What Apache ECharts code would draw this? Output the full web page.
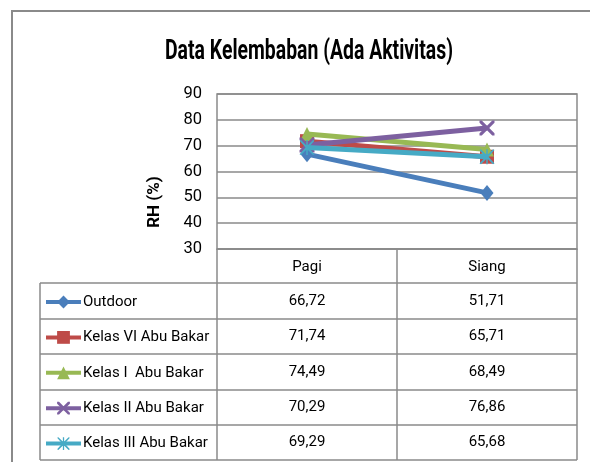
<!DOCTYPE html>
<html><head><meta charset="utf-8">
<script src="https://cdn.jsdelivr.net/npm/echarts@6/dist/echarts.min.js"></script>
<style>html,body{margin:0;padding:0;background:#fff}#c{width:590px;height:462px}</style>
</head><body><div id="c"></div>
<script>
var categories = ['Pagi', 'Siang'];
var seriesNames = ['Outdoor', 'Kelas VI Abu Bakar', 'Kelas I  Abu Bakar', 'Kelas II Abu Bakar', 'Kelas III Abu Bakar'];
var outdoor = [66.72, 51.71];
var kelasVI = [71.74, 65.71];
var kelasI = [74.49, 68.49];
var kelasII = [70.29, 76.86];
var kelasIII = [69.29, 65.68];
var yTicks = [30, 40, 50, 60, 70, 80, 90];
var titleText = 'Data Kelembaban (Ada Aktivitas)';
var yName = 'RH (%)';

var values = [outdoor, kelasVI, kelasI, kelasII, kelasIII];
var colors = ['#4A7EBB', '#BE4B48', '#98B954', '#7D60A0', '#46AAC5'];
var FONT = 'Roboto';
var xPath = 'path://M0,0L3,0L10,7L17,0L20,0L20,3L13,10L20,17L20,20L17,20L10,13L3,20L0,20L0,17L7,10L0,3Z';
var starPath = 'path://M0,1L2,0L10,8L18,0L20,1L12,10L20,19L18,20L10,12L2,20L0,19L8,10Z M9,0L11,0L11,20L9,20Z';
var symbols = ['diamond', 'rect', 'triangle', xPath, starPath];
var symSizes = [[13, 16], 14, 14, 15, 15];

var L = 217, R = 577, TOP = 94, AXB = 249;
var rowTops = [283, 319, 354, 390, 425, 460];
var colX = [307, 487];

// condensed title: fit the measured width of the reference
var cv = document.createElement('canvas').getContext('2d');
cv.font = 'bold 27px ' + FONT;
var titleScale = 288 / cv.measureText(titleText).width;

var chart = echarts.init(document.getElementById('c'));

var graphics = [];
graphics.push({type: 'rect', shape: {x: 12, y: 11, width: 700, height: 600}, style: {fill: 'none', stroke: '#8a8a8a', lineWidth: 2}, silent: true});
rowTops.forEach(function (y) {
  graphics.push({type: 'line', shape: {x1: 40, y1: y, x2: R, y2: y}, style: {stroke: '#8a8a8a', lineWidth: 1.5}});
});
graphics.push({type: 'line', shape: {x1: 40, y1: 283, x2: 40, y2: 460}, style: {stroke: '#8a8a8a', lineWidth: 1.5}});
values.forEach(function (vals, i) {
  var cy = (rowTops[i] + rowTops[i + 1]) / 2;
  vals.forEach(function (v, j) {
    graphics.push({type: 'text', x: colX[j], y: cy, style: {text: v.toFixed(2).replace('.', ','), font: '15px ' + FONT, fill: '#000', align: 'center', verticalAlign: 'middle'}});
  });
});
graphics.push({type: 'text', x: 155, y: 202, rotation: Math.PI / 2, style: {text: yName, font: 'bold 17px ' + FONT, fill: '#000', align: 'center', verticalAlign: 'middle'}});
graphics.push({type: 'text', x: 165, y: 52, scaleX: titleScale, style: {text: titleText, font: 'bold 27px ' + FONT, fill: '#000', align: 'left', verticalAlign: 'middle'}});

chart.setOption({
  animation: false,
  grid: {left: L, right: 590 - R, top: TOP, bottom: 462 - AXB, show: true, borderColor: '#8a8a8a', borderWidth: 1.5},
  legend: {orient: 'vertical', left: 44, top: 292, padding: 0, height: 170, itemWidth: 35, itemHeight: 16, itemGap: 15.4,
    lineStyle: {width: 4},
    textStyle: {fontFamily: FONT, fontSize: 15, color: '#000', lineHeight: 20, padding: [0, 0, 0, -3]}, data: seriesNames},
  xAxis: {type: 'category', data: categories, boundaryGap: true,
    axisLine: {lineStyle: {color: '#8a8a8a', width: 1.5}},
    axisTick: {show: true, length: 211, interval: 0, alignWithLabel: false, lineStyle: {color: '#8a8a8a', width: 1.5}},
    axisLabel: {margin: 11, fontFamily: FONT, fontSize: 15, color: '#000'}},
  yAxis: {type: 'value', min: yTicks[0], max: yTicks[yTicks.length - 1], interval: 10,
    axisLine: {show: false}, axisTick: {show: false},
    axisLabel: {margin: 15, fontFamily: FONT, fontSize: 16.5, color: '#000'},
    splitLine: {lineStyle: {color: '#8a8a8a', width: 1.5}}},
  graphic: graphics,
  series: seriesNames.map(function (n, i) {
    return {name: n, type: 'line', data: values[i], symbol: symbols[i], symbolSize: symSizes[i],
      lineStyle: {color: colors[i], width: 5}, itemStyle: {color: colors[i]}, z: 2 + i};
  })
});
</script></body></html>
